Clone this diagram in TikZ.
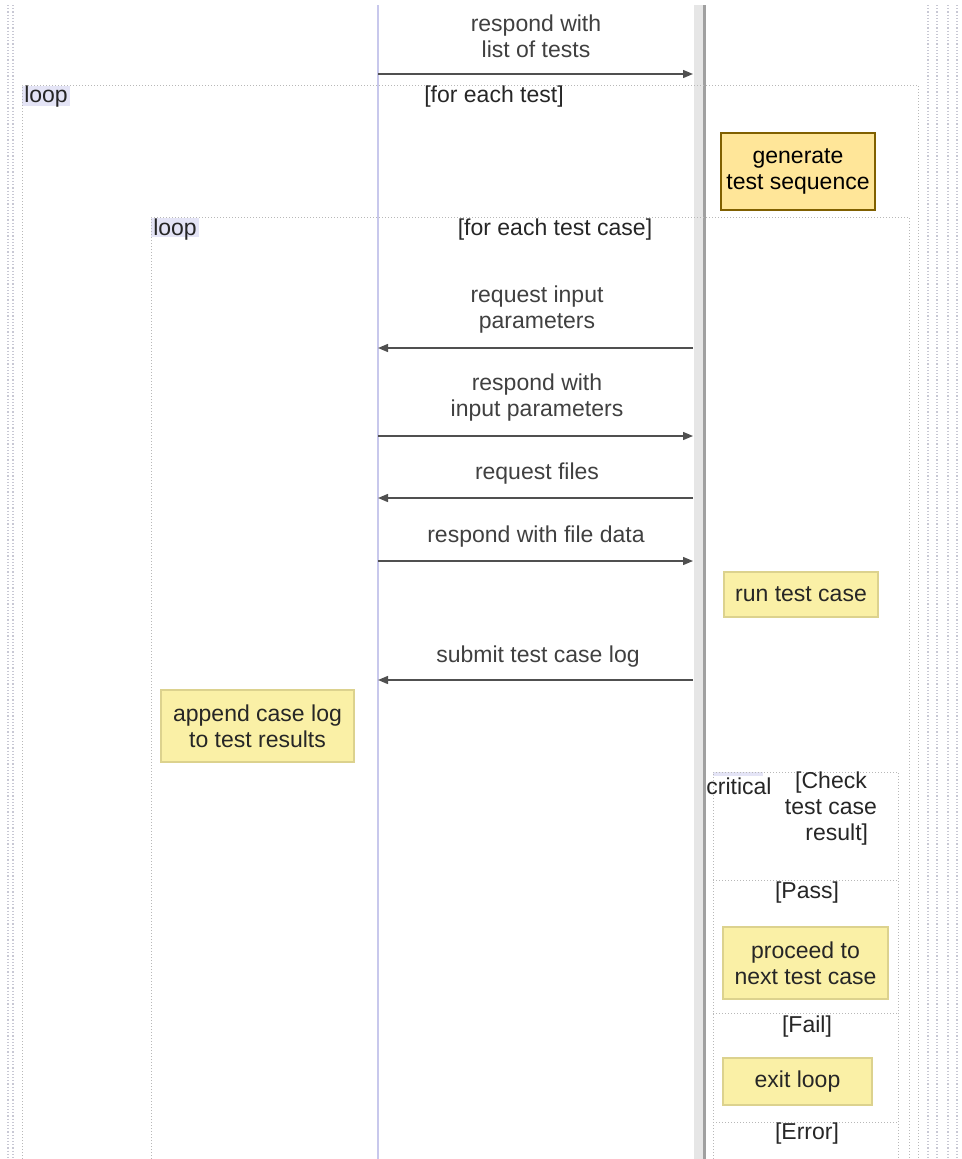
\documentclass[tikz,border=0pt]{standalone}
\usepackage{fontspec}
\setmainfont{Liberation Sans}
\usetikzlibrary{arrows.meta}
\definecolor{framegray}{HTML}{B8B8B8}
\definecolor{lifelav}{HTML}{C8C8EC}
\definecolor{lavbg}{HTML}{E4E4F6}
\definecolor{msggray}{HTML}{404040}
\definecolor{arrowgray}{HTML}{505050}
\definecolor{genfill}{HTML}{FFE699}
\definecolor{gendraw}{HTML}{806000}
\definecolor{notefill}{HTML}{FAF0A6}
\definecolor{notedraw}{HTML}{DCD28E}
\definecolor{barfill}{HTML}{E6E6E6}
\definecolor{bardark}{HTML}{A0A0A0}
\definecolor{edgegray}{HTML}{C8C8D4}
\begin{document}
\begin{tikzpicture}[x=1pt,y=-1pt,
  txt/.style={font=\fontsize{23}{26}\selectfont, align=center, inner sep=0pt},
  msglabel/.style={txt, text=msggray},
  framelabel/.style={txt, text=black!85},
  frame/.style={draw=framegray, dotted, line width=1pt},
  edge/.style={draw=edgegray, dotted, line width=1.2pt},
  msg/.style={draw=arrowgray, line width=1.4pt, -{Triangle[length=10pt,width=8pt]}},
  genbox/.style={txt, fill=genfill, draw=gendraw, line width=1.5pt, text=black, minimum width=154pt, minimum height=77pt},
  notebox/.style={txt, fill=notefill, draw=notedraw, line width=1.2pt, text=black!85}
]
\useasboundingbox (0,0) rectangle (961,1159);

% page edge dotted lines
\draw[edge] (8,5) -- (8,1159);
\draw[edge] (13,5) -- (13,1159);
\foreach \xx in {928,937,948,957} \draw[edge] (\xx,5) -- (\xx,1159);

% lifelines
\draw[lifelav, line width=1.8pt] (378,5) -- (378,1159);
\fill[barfill] (694,5) rectangle (703,1159);
\draw[bardark, line width=2.4pt] (704.5,5) -- (704.5,1159);

% outer loop frame
\fill[lavbg] (22,86) rectangle (70,106);
\draw[frame] (22,1159) -- (22,85) -- (918,85) -- (918,1159);
\node[framelabel] (outerlbl) at (46,97) {loop};
\node[framelabel] (outercond) at (494,97) {[for each test]};

% inner loop frame
\fill[lavbg] (151,218) rectangle (199,237);
\draw[frame] (151,1159) -- (151,217) -- (909,217) -- (909,1159);
\node[framelabel] (innerlbl) at (175,230) {loop};
\node[framelabel] (innercond) at (555,230) {[for each test case]};

% critical frame
\fill[lavbg] (713,772) rectangle (763,776);
\draw[frame] (713,1159) -- (713,772) -- (898,772) -- (898,1159);
\draw[frame] (713,880) -- (898,880);
\draw[frame] (713,1013) -- (898,1013);
\draw[frame] (713,1122) -- (898,1122);
\node[framelabel] (critlbl) at (739,786) {critical};
\node[framelabel] (critcond) at (831,809) {[Check\\test case\\\hphantom{x}result]};
\node[framelabel] (pass) at (807,893) {[Pass]};
\node[framelabel] (fail) at (807,1027) {[Fail]};
\node[framelabel] (err) at (807,1134) {[Error]};

% lifeline anchor coordinates
\coordinate (a1) at (378,74);  \coordinate (b1) at (693,74);
\coordinate (a2) at (378,348); \coordinate (b2) at (693,348);
\coordinate (a3) at (378,436); \coordinate (b3) at (693,436);
\coordinate (a4) at (378,498); \coordinate (b4) at (693,498);
\coordinate (a5) at (378,561); \coordinate (b5) at (693,561);
\coordinate (a6) at (378,680); \coordinate (b6) at (693,680);

% messages
\node[msglabel] (m1) at (536,36) {respond with\\list of tests};
\draw[msg] (a1) -- (b1);
\node[msglabel] (m2) at (537,310) {request input\\parameters};
\draw[msg] (b2) -- (a2);
\node[msglabel] (m3) at (537,398) {respond with\\input parameters};
\draw[msg] (a3) -- (b3);
\node[msglabel] (m4) at (537,474) {request files};
\draw[msg] (b4) -- (a4);
\node[msglabel] (m5) at (536,537) {respond with file data};
\draw[msg] (a5) -- (b5);
\node[msglabel] (m6) at (538,657) {submit test case log};
\draw[msg] (b6) -- (a6);

% activity boxes
\node[genbox] (gen) at (798,171.5) {generate\\test sequence};
\node[notebox, minimum width=154pt, minimum height=45pt] (run) at (801,594.5) {run test case};
\node[notebox, minimum width=193pt, minimum height=72pt] (append) at (257.5,726) {append case log\\to test results};
\node[notebox, minimum width=165pt, minimum height=72pt] (proceed) at (805.5,963) {proceed to\\next test case};
\node[notebox, minimum width=149pt, minimum height=47pt] (exitl) at (797.5,1081.5) {exit loop};
\end{tikzpicture}
\end{document}
